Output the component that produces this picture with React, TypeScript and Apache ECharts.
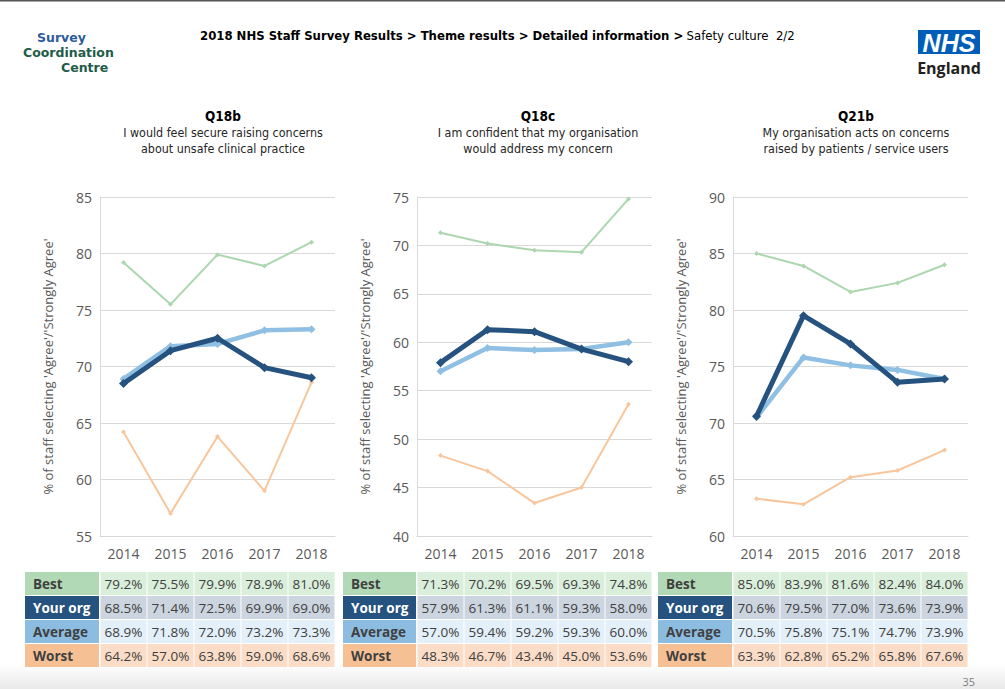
import { useEffect, useRef } from "react";
import * as echarts from "echarts";

const years = ["2014", "2015", "2016", "2017", "2018"];

const q18bBest = [79.2, 75.5, 79.9, 78.9, 81.0];
const q18bOrg = [68.5, 71.4, 72.5, 69.9, 69.0];
const q18bAvg = [68.9, 71.8, 72.0, 73.2, 73.3];
const q18bWorst = [64.2, 57.0, 63.8, 59.0, 68.6];

const q18cBest = [71.3, 70.2, 69.5, 69.3, 74.8];
const q18cOrg = [57.9, 61.3, 61.1, 59.3, 58.0];
const q18cAvg = [57.0, 59.4, 59.2, 59.3, 60.0];
const q18cWorst = [48.3, 46.7, 43.4, 45.0, 53.6];

const q21bBest = [85.0, 83.9, 81.6, 82.4, 84.0];
const q21bOrg = [70.6, 79.5, 77.0, 73.6, 73.9];
const q21bAvg = [70.5, 75.8, 75.1, 74.7, 73.9];
const q21bWorst = [63.3, 62.8, 65.2, 65.8, 67.6];

const rowLabels = ["Best", "Your org", "Average", "Worst"];
const questionCodes = ["Q18b", "Q18c", "Q21b"];
const questionText = [
  ["I would feel secure raising concerns", "about unsafe clinical practice"],
  ["I am confident that my organisation", "would address my concern"],
  ["My organisation acts on concerns", "raised by patients / service users"],
];
const yRanges = [
  [55, 85],
  [40, 75],
  [60, 90],
];
const yTitle = "% of staff selecting 'Agree'/'Strongly Agree'";

const panels = [
  [q18bBest, q18bOrg, q18bAvg, q18bWorst],
  [q18cBest, q18cOrg, q18cAvg, q18cWorst],
  [q21bBest, q21bOrg, q21bAvg, q21bWorst],
];

// ---- styling ----
const W = 1005;
const H = 689;
const gridLefts = [100, 417, 733];
const gridTop = 197;
const gridW = 235;
const gridH = 339;
const tableLabelX = [25, 343, 658];
const tableTop = 572;
const rowH = 24;

const lineColors = ["#acd7ae", "#25527e", "#8fbfe2", "#f8c69c"];
const lineWidths = [2, 5, 4.5, 2];
const symbolSizes = [5, 9, 8, 5];
const labelBg = ["#b2d9b5", "#25527e", "#8cbde0", "#f6c095"];
const cellBg = ["#d9eedb", "#cbd4df", "#e3eff9", "#fbdcc6"];
const labelInk = ["#404040", "#ffffff", "#404040", "#404040"];
const zOrder = [2, 4, 3, 1];

const axisFont = "'Open Sans', 'DejaVu Sans', sans-serif";
const narrowFont = "'Liberation Sans Narrow', 'DejaVu Sans Condensed', sans-serif";
const logoFamily = "'DejaVu Sans', sans-serif";

export default function App() {
  const ref = useRef<HTMLDivElement>(null);

  useEffect(() => {
    if (!ref.current) return;
    const chart = echarts.init(ref.current, undefined, { renderer: "svg" });

    const grids = gridLefts.map((left) => ({
      left,
      top: gridTop,
      width: gridW,
      height: gridH,
    }));

    const xAxes = panels.map((_, i) => ({
      type: "category",
      gridIndex: i,
      data: years,
      boundaryGap: true,
      axisLine: { show: true, lineStyle: { color: "#d9d9d9", width: 1 } },
      axisTick: { show: false },
      axisLabel: { color: "#595959", fontSize: 14, fontFamily: axisFont, margin: 10 },
      splitLine: { show: false },
    }));

    const yAxes = panels.map((_, i) => ({
      type: "value",
      gridIndex: i,
      min: yRanges[i][0],
      max: yRanges[i][1],
      interval: 5,
      name: yTitle,
      nameLocation: "middle",
      nameRotate: 90,
      nameGap: 46,
      nameTextStyle: { color: "#595959", fontSize: 13, fontFamily: axisFont },
      axisLine: { show: true, lineStyle: { color: "#d9d9d9", width: 1 } },
      axisTick: { show: false },
      axisLabel: { color: "#595959", fontSize: 14, fontFamily: axisFont, margin: 8 },
      splitLine: { show: true, lineStyle: { color: "#d9d9d9", width: 1 } },
    }));

    const series: any[] = [];
    panels.forEach((rows, i) => {
      rows.forEach((vals, r) => {
        series.push({
          type: "line",
          name: rowLabels[r],
          xAxisIndex: i,
          yAxisIndex: i,
          data: vals,
          z: zOrder[r],
          symbol: "diamond",
          symbolSize: symbolSizes[r],
          showSymbol: true,
          lineStyle: { color: lineColors[r], width: lineWidths[r] },
          itemStyle: { color: lineColors[r] },
          silent: true,
        });
      });
    });

    const graphic: any[] = [];

    // page frame line and bottom fade
    graphic.push({
      type: "rect",
      shape: { x: 0, y: 0, width: W, height: 1.5 },
      style: { fill: "#555555" },
    });
    graphic.push({
      type: "rect",
      shape: { x: 0, y: 664, width: W, height: H - 664 },
      style: {
        fill: new echarts.graphic.LinearGradient(0, 0, 0, 1, [
          { offset: 0, color: "#ffffff" },
          { offset: 1, color: "#e9e9e9" },
        ]),
      },
      z: -1,
    });
    graphic.push({
      type: "text",
      style: {
        text: "35",
        x: 975,
        y: 681,
        textAlign: "right",
        textVerticalAlign: "middle",
        fill: "#808080",
        font: `11px ${axisFont}`,
      },
    });

    // logo
    const logoFont = `bold 12.5px ${logoFamily}`;
    graphic.push(
      {
        type: "text",
        style: { text: "Survey", x: 37, y: 37, textVerticalAlign: "middle", fill: "#2d5b9a", font: logoFont },
      },
      {
        type: "text",
        style: { text: "Coordination", x: 23, y: 52, textVerticalAlign: "middle", fill: "#1e5b48", font: logoFont },
      },
      {
        type: "text",
        style: { text: "Centre", x: 61, y: 67, textVerticalAlign: "middle", fill: "#1e5b48", font: logoFont },
      }
    );

    // breadcrumb header
    graphic.push({
      type: "text",
      style: {
        text: "{b|2018 NHS Staff Survey Results > Theme results > Detailed information >} {n|Safety culture  2/2}",
        x: 200,
        y: 35,
        textVerticalAlign: "middle",
        rich: {
          b: { fontFamily: narrowFont, fontWeight: "bold", fontSize: 13, color: "#000000" },
          n: { fontFamily: narrowFont, fontSize: 13, color: "#41707f" },
        },
      },
    });

    // NHS England logo
    graphic.push(
      {
        type: "rect",
        shape: { x: 918, y: 30, width: 62, height: 24 },
        style: { fill: "#005eb8" },
      },
      {
        type: "text",
        style: {
          text: "NHS",
          x: 949,
          y: 42.5,
          textAlign: "center",
          textVerticalAlign: "middle",
          fill: "#ffffff",
          font: `italic bold 25px 'Liberation Sans', Arial, sans-serif`,
        },
      },
      {
        type: "text",
        style: {
          text: "England",
          x: 949,
          y: 68,
          textAlign: "center",
          textVerticalAlign: "middle",
          fill: "#231f20",
          font: `bold 16px ${axisFont}`,
        },
      }
    );

    // question headings
    const headCenters = [223, 538, 856];
    questionCodes.forEach((code, i) => {
      graphic.push({
        type: "text",
        style: {
          text: code,
          x: headCenters[i],
          y: 116,
          textAlign: "center",
          textVerticalAlign: "middle",
          fill: "#000000",
          font: `bold 13.5px ${narrowFont}`,
        },
      });
      questionText[i].forEach((line, k) => {
        graphic.push({
          type: "text",
          style: {
            text: line,
            x: headCenters[i],
            y: 132 + k * 16,
            textAlign: "center",
            textVerticalAlign: "middle",
            fill: "#262626",
            font: `12.4px ${narrowFont}`,
          },
        });
      });
    });

    // tables under each chart
    const bandW = gridW / years.length;
    panels.forEach((rows, i) => {
      rows.forEach((vals, r) => {
        const y = tableTop + r * rowH;
        const lx = tableLabelX[i];
        graphic.push({
          type: "rect",
          shape: { x: lx, y, width: gridLefts[i] - lx - 1, height: rowH - 1 },
          style: { fill: labelBg[r] },
        });
        graphic.push({
          type: "text",
          style: {
            text: rowLabels[r],
            x: lx + 8,
            y: y + rowH / 2,
            textVerticalAlign: "middle",
            fill: labelInk[r],
            font: `bold 13.5px ${axisFont}`,
          },
        });
        vals.forEach((v, j) => {
          const cx = gridLefts[i] + j * bandW;
          graphic.push({
            type: "rect",
            shape: { x: cx + 0.5, y, width: bandW - 1, height: rowH - 1 },
            style: { fill: cellBg[r] },
          });
          graphic.push({
            type: "text",
            style: {
              text: `${v.toFixed(1)}%`,
              x: cx + bandW / 2,
              y: y + rowH / 2,
              textAlign: "center",
              textVerticalAlign: "middle",
              fill: "#404040",
              font: `13.5px ${axisFont}`,
            },
          });
        });
      });
    });

    chart.setOption({
      animation: false,
      backgroundColor: "#ffffff",
      grid: grids,
      xAxis: xAxes,
      yAxis: yAxes,
      series,
      graphic: { elements: graphic },
    });

    return () => {
      chart.dispose();
    };
  }, []);

  return (
    <div
      ref={ref}
      style={{ position: "fixed", left: 0, top: 0, width: W, height: H, background: "#ffffff" }}
    />
  );
}
